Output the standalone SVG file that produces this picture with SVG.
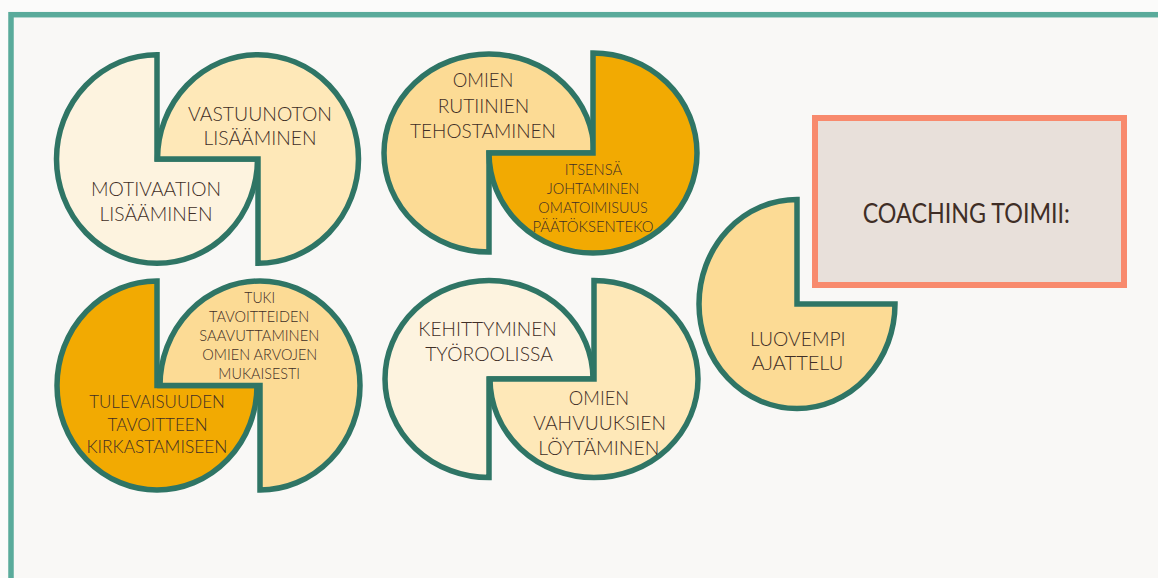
<svg xmlns="http://www.w3.org/2000/svg" width="1158" height="578" viewBox="0 0 1158 578">
  <style>
    .bg { fill: #f9f8f6; }
    .frame { fill: none; stroke: #5aab9b; stroke-width: 5.5; }
    .piece { stroke: #2f7565; stroke-width: 5.5; stroke-linejoin: miter; }
    .cream { fill: #fdf3df; }
    .light { fill: #fee8b8; }
    .mid { fill: #fcdb95; }
    .orange { fill: #f2aa02; }
    .box { fill: #e8e0da; stroke: #f88a6d; stroke-width: 6; }
    text { font-family: "Lato", "Liberation Sans", sans-serif; font-weight: 300; fill: #3f2e26; text-anchor: middle; }
    .t20 { font-size: 20.5px; }
    .t19 { font-size: 19.5px; }
    .t17 { font-size: 17px; }
    .t16 { font-size: 16px; }
    .t15 { font-size: 15px; }
    .title { font-size: 27px; font-weight: 400; }
  </style>

  <!-- page background and outer frame -->
  <rect x="0" y="0" width="1158" height="578" fill="#fbfbfa"/>
  <rect class="bg" x="11" y="14.7" width="1200" height="600"/>
  <rect class="frame" x="11" y="14.7" width="1200" height="600"/>

  <!-- pair 1: motivation / responsibility -->
  <g id="motivaatio">
    <path class="piece cream" d="M157,54.7 L157,159 L257.5,159 A100.5,104.3 0 1 1 157,54.7 Z"/>
    <text class="t20" x="156" y="196" textLength="130" lengthAdjust="spacingAndGlyphs">MOTIVAATION</text>
    <text class="t20" x="156" y="220.7" textLength="113" lengthAdjust="spacingAndGlyphs">LISÄÄMINEN</text>
  </g>
  <g id="vastuu">
    <path class="piece light" d="M258,263.3 L258,159 L157.5,159 A100.5,104.3 0 1 1 258,263.3 Z"/>
    <text class="t20" x="260" y="120.7" textLength="144" lengthAdjust="spacingAndGlyphs">VASTUUNOTON</text>
    <text class="t20" x="260" y="145" textLength="113" lengthAdjust="spacingAndGlyphs">LISÄÄMINEN</text>
  </g>

  <!-- pair 2: routines / self-leadership -->
  <g id="rutiinit">
    <path class="piece mid" d="M594,153 L489,153 L489,252 A105,99 0 1 1 594,153 Z"/>
    <text class="t20" x="483" y="87.3" textLength="60.7" lengthAdjust="spacingAndGlyphs">OMIEN</text>
    <text class="t20" x="483.5" y="112.7" textLength="91.7" lengthAdjust="spacingAndGlyphs">RUTIINIEN</text>
    <text class="t20" x="483" y="137.7" textLength="146" lengthAdjust="spacingAndGlyphs">TEHOSTAMINEN</text>
  </g>
  <g id="itsensa">
    <path class="piece orange" d="M489,153 L593,153 L593,53 A104,100 0 1 1 489,153 Z"/>
    <text class="t16" x="593.5" y="175" textLength="57.3" lengthAdjust="spacingAndGlyphs">ITSENSÄ</text>
    <text class="t16" x="593" y="194" textLength="92.7" lengthAdjust="spacingAndGlyphs">JOHTAMINEN</text>
    <text class="t16" x="593" y="212.7" textLength="109.3" lengthAdjust="spacingAndGlyphs">OMATOIMISUUS</text>
    <text class="t16" x="593" y="231.7" textLength="121" lengthAdjust="spacingAndGlyphs">PÄÄTÖKSENTEKO</text>
  </g>

  <!-- pair 3: future goals / support -->
  <g id="tulevaisuus">
    <path class="piece orange" d="M157,281 L157,385.5 L257,385.5 A100,104.5 0 1 1 157,281 Z"/>
    <text class="t17" x="157" y="408.3" textLength="135.7" lengthAdjust="spacingAndGlyphs">TULEVAISUUDEN</text>
    <text class="t17" x="157.5" y="430.7" textLength="100" lengthAdjust="spacingAndGlyphs">TAVOITTEEN</text>
    <text class="t17" x="157" y="452.7" textLength="141" lengthAdjust="spacingAndGlyphs">KIRKASTAMISEEN</text>
  </g>
  <g id="tuki">
    <path class="piece mid" d="M260,490 L260,385.5 L160,385.5 A100,104.5 0 1 1 260,490 Z"/>
    <text class="t15" x="259.7" y="303.3" textLength="30.7" lengthAdjust="spacingAndGlyphs">TUKI</text>
    <text class="t15" x="259.2" y="321.7" textLength="100.3" lengthAdjust="spacingAndGlyphs">TAVOITTEIDEN</text>
    <text class="t15" x="259.3" y="340.7" textLength="120" lengthAdjust="spacingAndGlyphs">SAAVUTTAMINEN</text>
    <text class="t15" x="259.8" y="360" textLength="115" lengthAdjust="spacingAndGlyphs">OMIEN ARVOJEN</text>
    <text class="t15" x="259.2" y="379" textLength="81.7" lengthAdjust="spacingAndGlyphs">MUKAISESTI</text>
  </g>

  <!-- pair 4: work role / strengths -->
  <g id="kehittyminen">
    <path class="piece cream" d="M593,379 L489,379 L489,477.5 A104,98.5 0 1 1 593,379 Z"/>
    <text class="t19" x="487.5" y="335.7" textLength="138.3" lengthAdjust="spacingAndGlyphs">KEHITTYMINEN</text>
    <text class="t19" x="489" y="361" textLength="127.7" lengthAdjust="spacingAndGlyphs">TYÖROOLISSA</text>
  </g>
  <g id="vahvuudet">
    <path class="piece light" d="M490,379 L594,379 L594,280.5 A104,98.5 0 1 1 490,379 Z"/>
    <text class="t20" x="599" y="405" textLength="60.3" lengthAdjust="spacingAndGlyphs">OMIEN</text>
    <text class="t20" x="599.7" y="430" textLength="132.7" lengthAdjust="spacingAndGlyphs">VAHVUUKSIEN</text>
    <text class="t20" x="598.8" y="455" textLength="121" lengthAdjust="spacingAndGlyphs">LÖYTÄMINEN</text>
  </g>

  <!-- single piece: creative thinking -->
  <g id="luovuus">
    <path class="piece mid" d="M797,199.5 L797,304 L895,304 A98,104.5 0 1 1 797,199.5 Z"/>
    <text class="t19" x="797.8" y="345.7" textLength="95.7" lengthAdjust="spacingAndGlyphs">LUOVEMPI</text>
    <text class="t19" x="797.5" y="370" textLength="91.7" lengthAdjust="spacingAndGlyphs">AJATTELU</text>
  </g>

  <!-- heading box -->
  <g id="coaching">
    <rect class="box" x="815" y="118" width="309" height="167"/>
    <text class="title" x="966.3" y="223.3" textLength="207.3" lengthAdjust="spacingAndGlyphs">COACHING TOIMII:</text>
  </g>

  <g id="connectors"/>
</svg>
